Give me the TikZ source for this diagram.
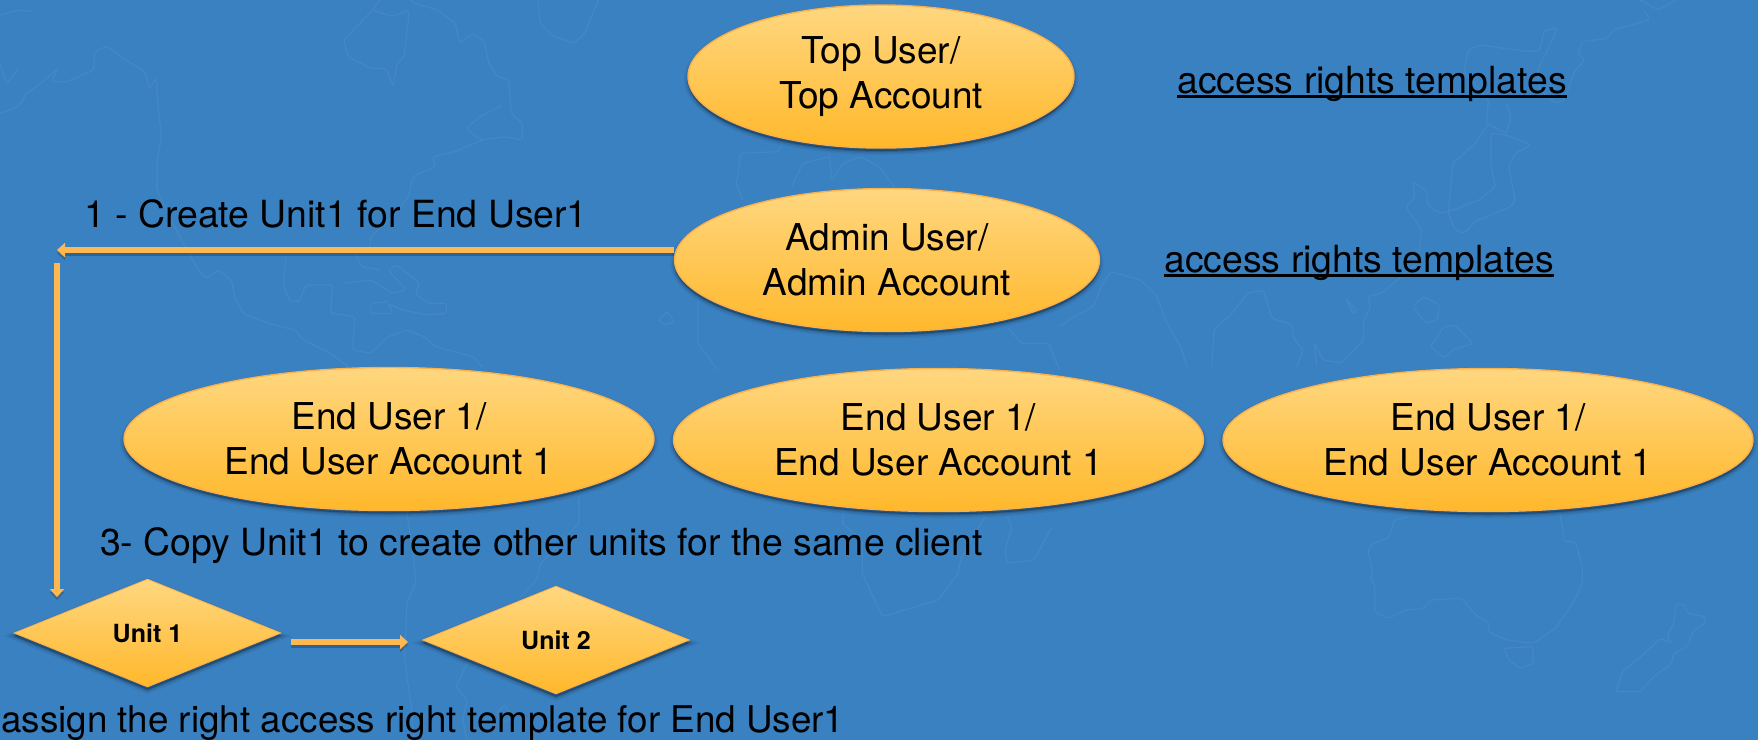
\documentclass[tikz,border=0pt]{standalone}
\usepackage{fontspec}
\setmainfont{TeX Gyre Heros}
\usetikzlibrary{shapes.geometric,arrows.meta,shadows}
\definecolor{bg}{HTML}{3A81C1}
\definecolor{mapline}{HTML}{4388C5}
\definecolor{gtop}{HTML}{FFD780}
\definecolor{gbot}{HTML}{FFB82B}
\definecolor{edge}{HTML}{FBB04A}
\definecolor{wire}{HTML}{FFB84F}
\newcommand\thickunder[1]{\setbox0\hbox{#1}\rlap{\rule[-5pt]{\wd0}{3pt}}\box0}
\tikzset{
  x=1pt,y=-1pt,
  softshadow/.style={
    general shadow={fill=black,draw=black,line width=8pt,opacity=.05,shadow xshift=0pt,shadow yshift=-3pt},
    general shadow={fill=black,draw=black,line width=5pt,opacity=.08,shadow xshift=0pt,shadow yshift=-3pt},
    general shadow={fill=black,draw=black,line width=2pt,opacity=.12,shadow xshift=0pt,shadow yshift=-3pt}},
  userball/.style={ellipse,draw=edge,line width=1.4pt,top color=gtop,bottom color=gbot,softshadow,inner sep=0pt,minimum height=143pt,align=center,text=black,font=\fontsize{37}{44.5}\selectfont},
  unitbox/.style={diamond,draw=edge,line width=.8pt,top color=gtop,bottom color=gbot,softshadow,inner sep=0pt,minimum width=267pt,minimum height=108pt,text=black,font=\bfseries\fontsize{25}{30}\selectfont},
  wirearrow/.style={draw=wire,line width=6.5pt,-{Triangle[length=8pt,width=14pt,fill=wire]},
    general shadow={draw=black,line width=6pt,opacity=.22,shadow xshift=0pt,shadow yshift=-3pt}},
  label/.style={anchor=base west,inner sep=0pt,text=black,font=\fontsize{37.4}{43}\selectfont},
  coast/.style={draw=mapline,line width=1.3pt,rounded corners=2pt},
}
\begin{document}
\begin{tikzpicture}
\useasboundingbox (0,0) rectangle (1758,740);
\fill[bg] (0,0) rectangle (1758,740);
\begin{scope}
\clip (0,0) rectangle (1758,740);
% faint world map behind the diagram
\begin{scope}[xscale=.4464,yscale=.3333]
\draw[coast] (0,340) -- (40,320) -- (60,280) -- (100,240) -- (130,205) -- (115,245) -- (150,245) -- (210,210) -- (212,155) -- (240,138) -- (270,170) -- (325,215) -- (335,265) -- (350,235) -- (355,330) -- (362,410) -- (352,480) -- (352,570) -- (380,650) -- (410,730) -- (440,800) -- (460,835) -- (490,810) -- (520,845) -- (525,890) -- (545,940) -- (600,970) -- (660,990) -- (680,1020) -- (740,1060) -- (780,1100);
\draw[coast] (640,770) -- (635,860) -- (650,905) -- (670,905) -- (685,855) -- (745,855) -- (740,940) -- (795,950) -- (790,1050) -- (830,1060) -- (870,1010) -- (910,990) -- (950,1010) -- (975,1040) -- (1060,1070) -- (1080,1100);
\draw[coast] (1125,315) -- (1075,350) -- (1045,385) -- (1060,405) -- (1080,420);
\draw[coast] (920,0) -- (930,10) -- (980,30) -- (1020,70) -- (1030,130) -- (1060,100) -- (1085,125) -- (1095,190) -- (1115,230) -- (1140,240) -- (1145,340) -- (1170,370) -- (1170,420) -- (1130,410) -- (1080,420) -- (1020,455) -- (970,470) -- (975,500) -- (925,530) -- (915,590) -- (880,650) -- (830,710) -- (830,740) -- (795,760) -- (810,800) -- (850,810);
\draw[coast] (850,0) -- (835,30) -- (770,120) -- (780,170) -- (830,205) -- (865,205) -- (880,260) -- (890,190) -- (905,170) -- (915,60) -- (915,30) -- (880,50) -- (835,30);
\draw[coast] (1205,0) -- (1210,70) -- (1235,105) -- (1285,130) -- (1310,100) -- (1340,0);
\draw[coast] (770,850) -- (830,840) -- (880,880) -- (910,870) -- (870,810) -- (890,795) -- (940,850) -- (930,880) -- (960,910) -- (1000,910) -- (1000,940) -- (960,945) -- (900,930) -- (870,910) -- (880,940) -- (830,940) -- (830,910) -- (870,905);
\draw[coast] (1475,960) -- (1495,935) -- (1510,965) -- (1490,975) -- cycle;
\draw[coast] (0,190) -- (15,250) -- (40,210);
\draw[coast] (0,45) -- (40,30) -- (75,35);
\end{scope}
\begin{scope}[shift={(1060,0)},xscale=.4464,yscale=.3333]
\draw[coast] (1310,30) -- (1320,60) -- (1240,90) -- (1225,115) -- (1170,125) -- (1160,160) -- (1175,180) -- (1150,220) -- (1130,300) -- (1110,310) -- (1075,270) -- (1070,210) -- (1115,85) -- (1085,90) -- (1075,150) -- (1050,155) -- (940,135) -- (915,150) -- (905,215) -- (960,300) -- (955,370) -- (1000,400) -- (1010,350) -- (1000,310);
\draw[coast] (1300,0) -- (1340,30) -- (1380,0);
\draw[coast] (960,370) -- (930,430) -- (880,490) -- (870,640) -- (885,690) -- (905,700) -- (930,665) -- (1010,620) -- (1020,600) -- (1005,500) -- (1020,460) -- (1055,435) -- (1000,405) -- (965,400) -- (965,490) -- (975,560) -- (940,600) -- (880,630) -- (855,640) -- (825,620) -- (820,570) -- (790,545) -- (795,590) -- (775,620) -- (810,690) -- (800,790) -- (720,880) -- (690,890) -- (695,925) -- (680,960) -- (680,1020) -- (630,1090) -- (590,1080) -- (570,1030) -- (575,1100);
\draw[coast] (790,920) -- (815,890) -- (850,915) -- (845,960) -- (820,970) -- cycle;
\draw[coast] (830,1040) -- (860,980) -- (885,975) -- (925,1030) -- (880,1050) -- (860,1075) -- cycle;
\draw[coast] (640,895) -- (665,935) -- (655,940) -- cycle;
\draw[coast] (0,980) -- (30,950) -- (75,920) -- (95,850) -- (115,815) -- (180,840) -- (215,885) -- (240,970) -- (270,1040) -- (285,1100);
\draw[coast] (340,1100) -- (345,990) -- (385,940) -- (420,880) -- (455,870) -- (475,955) -- (520,975) -- (525,1020) -- (545,1050) -- (530,1100);
\end{scope}
\begin{scope}[shift={(660,0)},xscale=.4464,yscale=.3333]
\draw[coast] (275,430) -- (265,455) -- (180,460) -- (175,530) -- (170,545) -- (185,600);
\draw[coast] (295,560) -- (320,490) -- (380,470) -- (385,540) -- (410,490) -- (450,470) -- (490,500) -- (525,560);
\draw[coast] (85,900) -- (85,1030) -- (130,1110);
\draw[coast] (780,985) -- (810,1030) -- (870,1030) -- (895,1110);
\end{scope}
\begin{scope}[shift={(360,460)},xscale=.4464,yscale=.3333]
\draw[coast] (105,160) -- (120,290) -- (125,370) -- (105,430) -- (100,600) -- (115,740) -- (120,840);
\draw[coast] (490,110) -- (490,190) -- (405,310) -- (395,360) -- (360,410);
\draw[coast] (240,610) -- (215,680) -- (240,720) -- (230,780) -- (240,840);
\draw[coast] (305,760) -- (325,735) -- (340,770) -- (320,790) -- cycle;
\draw[coast] (1085,150) -- (1080,190) -- (1125,240) -- (1125,340) -- (1170,470) -- (1295,420) -- (1340,340) -- (1345,300) -- (1400,170);
\draw[coast] (1450,170) -- (1460,200) -- (1445,270) -- (1450,310) -- (1510,300) -- (1550,200);
\end{scope}
\begin{scope}[shift={(1060,500)},xscale=.4464,yscale=.3333]
\draw[coast] (780,50) -- (750,60) -- (735,115) -- (700,130) -- (690,150) -- (700,220) -- (695,240) -- (705,250) -- (705,335) -- (735,355) -- (775,330) -- (815,325) -- (830,300) -- (900,295) -- (935,350) -- (960,365) -- (960,395) -- (1000,420) -- (1060,430) -- (1110,385) -- (1155,295) -- (1170,250) -- (1170,200) -- (1155,125) -- (1130,125) -- (1120,40);
\draw[coast] (995,445) -- (1005,480) -- (1030,505) -- (1060,490) -- (1060,440) -- cycle;
\draw[coast] (1375,370) -- (1380,310) -- (1400,315) -- (1405,340) -- (1445,350) -- (1445,370) -- (1420,390) -- (1405,440) -- (1375,460) -- (1370,490) -- (1330,530) -- (1300,575) -- (1245,575) -- (1260,515) -- (1305,465) -- (1345,415) -- (1370,430) -- (1360,405) -- cycle;
\end{scope}
% diagram
\node[userball,minimum width=386pt] (top) at (881,76.5) {Top User/\\Top Account};
\node[userball,minimum width=425pt] (admin) at (887,260) {Admin User/\\Admin Account};
\node[userball,minimum width=530pt] (e1) at (389,439) {End User 1/\\End User Account 1};
\node[userball,minimum width=530pt] (e2) at (938.5,440) {End User 1/\\End User Account 1};
\node[userball,minimum width=530pt] (e3) at (1488,440) {End User 1/\\End User Account 1};
\node[unitbox] (u1) at (147.5,633) {Unit 1};
\node[unitbox] (u2) at (556,640) {Unit 2};
\node[label] (t1) at (84,227) {1 - Create Unit1 for End User1};
\node[label] (t3) at (100,555) {3- Copy Unit1 to create other units for the same client};
\node[label,font=\fontsize{36.8}{43}\selectfont] (t2) at (1,732) {assign the right access right template for End User1};
\node[label] (r1) at (1177,93) {\thickunder{access rights templates}};
\node[label] (r2) at (1164,272) {\thickunder{access rights templates}};
\coordinate (c1) at (57,250);
\coordinate (c2) at (57,263);
\coordinate (c3) at (57,597);
\coordinate (c4) at (291,642);
\coordinate (c5) at (408,642);
\draw[wirearrow] (admin.west |- c1) -- (c1);
\draw[wirearrow] (c2) -- (c3);
\draw[wirearrow] (c4) -- (c5);
\end{scope}
\end{tikzpicture}
\end{document}
